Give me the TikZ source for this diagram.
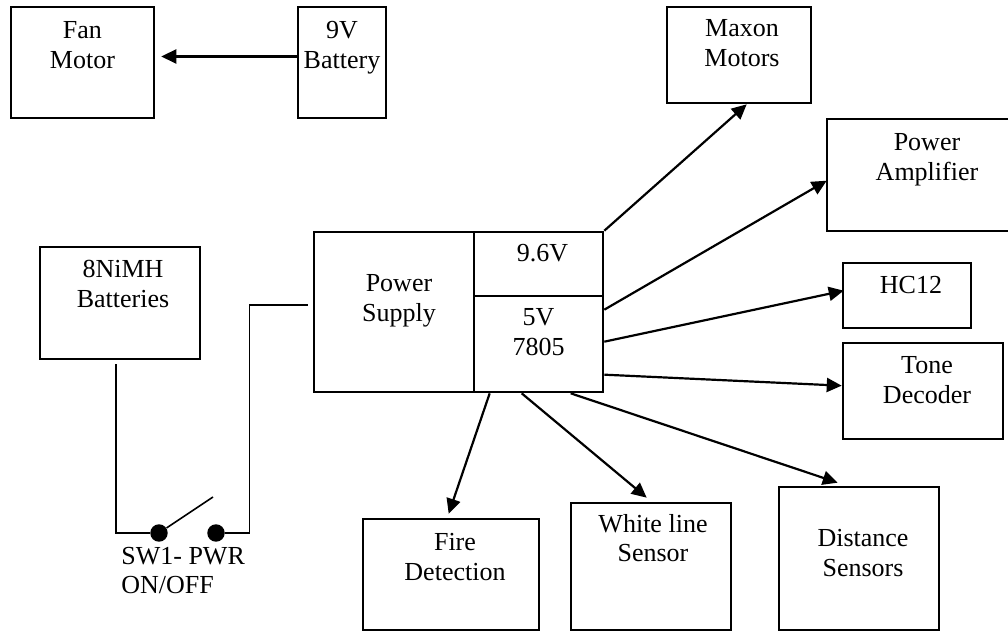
\documentclass[tikz,border=0pt]{standalone}
\usepackage{fontspec}
\setmainfont{Liberation Serif}
\usepackage{tikz}
\usetikzlibrary{calc,fit,arrows.meta}
\definecolor{ink}{HTML}{000000}
\tikzset{
  box/.style={draw=ink, line width=1.5pt, inner sep=0pt},
  link/.style={draw=ink, line width=1.25pt, -{Triangle[length=8.5pt,width=8pt]}},
  wire/.style={draw=ink, line width=0.9pt},
  txt/.style={text=ink, font=\fontsize{14.8}{17}\selectfont, align=center, inner sep=0pt, anchor=north},
  dot/.style={circle, fill=ink, inner sep=0pt, minimum size=0.35cm},
}
\begin{document}
\begin{tikzpicture}[x=0.02cm, y=-0.02cm]
  \useasboundingbox (0,0) rectangle (1008,631);
  % top left
  \node[box, fit={(11,7) (154,118)}] (fan) {};
  \node[box, fit={(298,7) (386,118)}] (bat9) {};
  \node[txt] (fantxt) at ($(fan.north)+(0,15.5)$) {Fan\\Motor};
  \node[txt] (bat9txt) at ($(bat9.north)+(0,15)$) {9V\\Battery};
  \draw[link] ($(bat9.west)+(0,-6)$) -- ($(fan.east)+(6,-6)$);
  % supply
  \node[box, fit={(314,232) (474,392)}] (ps) {};
  \node[box, fit={(474,232) (603,296)}] (v96) {};
  \node[box, fit={(474,296) (603,392)}] (v5) {};
  \node[txt] (pstxt) at ($(ps.north)+(5,43.5)$) {Power\\Supply};
  \node[txt] (v96txt) at ($(v96.north)+(4,13.5)$) {9.6V};
  \node[txt] (v5txt) at ($(v5.north)+(0,13.5)$) {5V\\7805};
  % batteries and switch
  \node[box, fit={(40,247) (200,359)}] (batt) {};
  \node[txt] (batttxt) at ($(batt.north)+(3,14.5)$) {8NiMH\\Batteries};
  \node[dot] (s1) at (159,533) {};
  \node[dot] (s2) at (216,533) {};
  \coordinate (tap) at ($(ps.west)+(-5,-7)$);
  \draw[wire] ($(batt.south)+(-4,4)$) |- (s1);
  \draw[wire] (s2) -| ($(tap)+(-58,0)$) -- (tap);
  \draw[wire] (s1) -- ++(54,-36);
  \node[txt, anchor=north west, align=left] (swtxt) at (121,546.5) {SW1- PWR\\ON/OFF};
  % loads
  \node[box, fit={(667,7) (811,103)}] (maxon) {};
  \node[box, fit={(827,119) (1027,231)}] (amp) {};
  \node[box, fit={(843,263) (971,328)}] (hc) {};
  \node[box, fit={(843,343) (1003,439)}] (tone) {};
  \node[box, fit={(363,519) (539,630)}] (fire) {};
  \node[box, fit={(571,503) (731,630)}] (white) {};
  \node[box, fit={(779,487) (939,630)}] (dist) {};
  \node[txt] (maxontxt) at ($(maxon.north)+(3,13.5)$) {Maxon\\Motors};
  \node[txt] (amptxt) at ($(amp.north)+(0,15.5)$) {Power\\Amplifier};
  \node[txt] (hctxt) at ($(hc.north)+(4,14.5)$) {HC12};
  \node[txt] (tonetxt) at ($(tone.north)+(4,14.5)$) {Tone\\Decoder};
  \node[txt] (firetxt) at ($(fire.north)+(4,15.5)$) {Fire\\Detection};
  \node[txt] (whitetxt) at ($(white.north)+(2,12)$) {White line\\Sensor};
  \node[txt] (disttxt) at ($(dist.north)+(4,43.5)$) {Distance\\Sensors};
  % feeds
  \draw[link] (v96.north east) -- ($(maxon.south west)+(81,0)$);
  \draw[link] ($(v5.north east)+(0,15)$) -- ($(amp.north west)+(1,63)$);
  \draw[link] ($(v5.north east)+(0,47)$) -- ($(hc.north west)+(2,29)$);
  \draw[link] ($(v5.north east)+(0,80)$) -- ($(tone.north west)+(0,44)$);
  \draw[link] ($(v5.south west)+(98,0)$) -- ($(dist.north west)+(60,-3)$);
  \draw[link] ($(v5.south west)+(49,0)$) -- ($(white.north west)+(77,-4)$);
  \draw[link] ($(v5.south west)+(17,0)$) -- ($(fire.north west)+(87,-4)$);
\end{tikzpicture}
\end{document}
